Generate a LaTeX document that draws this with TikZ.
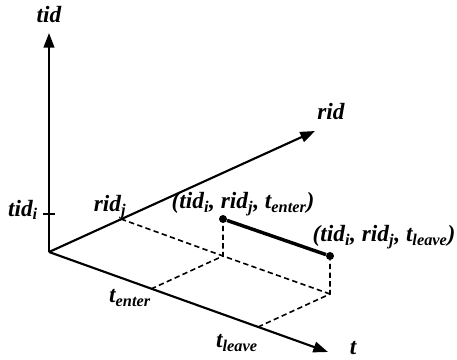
\documentclass[tikz,border=0pt]{standalone}
\usepackage{fontspec}
\setmainfont{Liberation Serif}
\usetikzlibrary{arrows.meta}

\begin{document}
\begin{tikzpicture}[
    x=0.75pt, y=-0.75pt,
    every node/.style={font=\fontsize{17.5}{20}\selectfont\bfseries\itshape, inner sep=1pt},
    axis/.style={line width=1.6pt, -{Triangle[length=11pt, width=8pt]}},
    guide/.style={line width=1.2pt, dash pattern=on 4pt off 2.5pt},
    dot/.style={circle, fill, inner sep=0pt, minimum size=6pt},
]

% Frame
\useasboundingbox (0,0) rectangle (457,360);

% Axes
\coordinate (o) at (49,252);
\coordinate (tidtip) at (49,33);
\coordinate (ridtip) at (315,131);
\coordinate (ttip) at (328,352);

\draw[axis] (o) -- (tidtip);
\draw[axis] (o) -- (ridtip);
\draw[axis] (o) -- (ttip);

\node (tidlabel) at (49,15) {tid};
\node (ridlabel) at (331,112) {rid};
\node (tlabel) at (353,348) {t};

% Marks on the axes
\coordinate (tidi) at (49,214);
\coordinate (ridj) at (121,219);
\coordinate (tenter) at (151,289);
\coordinate (tleave) at (258,327);

\draw[line width=1.2pt] (tidi) ++(-6,0) -- ++(12,0);

\node (tidilabel) at (23,210) {tid\textsubscript{i}};
\node (ridjlabel) at (110,207) {rid\textsubscript{j}};
\node (tenterlabel) at (130,298) {t\textsubscript{enter}};
\node (tleavelabel) at (237,343) {t\textsubscript{leave}};

% Floor and raised points
\coordinate (efloor) at (223,256);
\coordinate (lfloor) at (330,294);
\node[dot] (enter) at (223,219) {};
\node[dot] (leave) at (330,256) {};

% Dashed guides
\draw[guide] (ridj) -- (efloor) -- (lfloor);
\draw[guide] (tenter) -- (efloor) -- (enter);
\draw[guide] (tleave) -- (lfloor) -- (leave);

% Stay segment
\draw[line width=2.6pt] (enter) -- (leave);

\node (enterlabel) at (243,204) {(tid\textsubscript{i}, rid\textsubscript{j}, t\textsubscript{enter})};
\node (leavelabel) at (384,237) {(tid\textsubscript{i}, rid\textsubscript{j}, t\textsubscript{leave})};

\end{tikzpicture}
\end{document}
